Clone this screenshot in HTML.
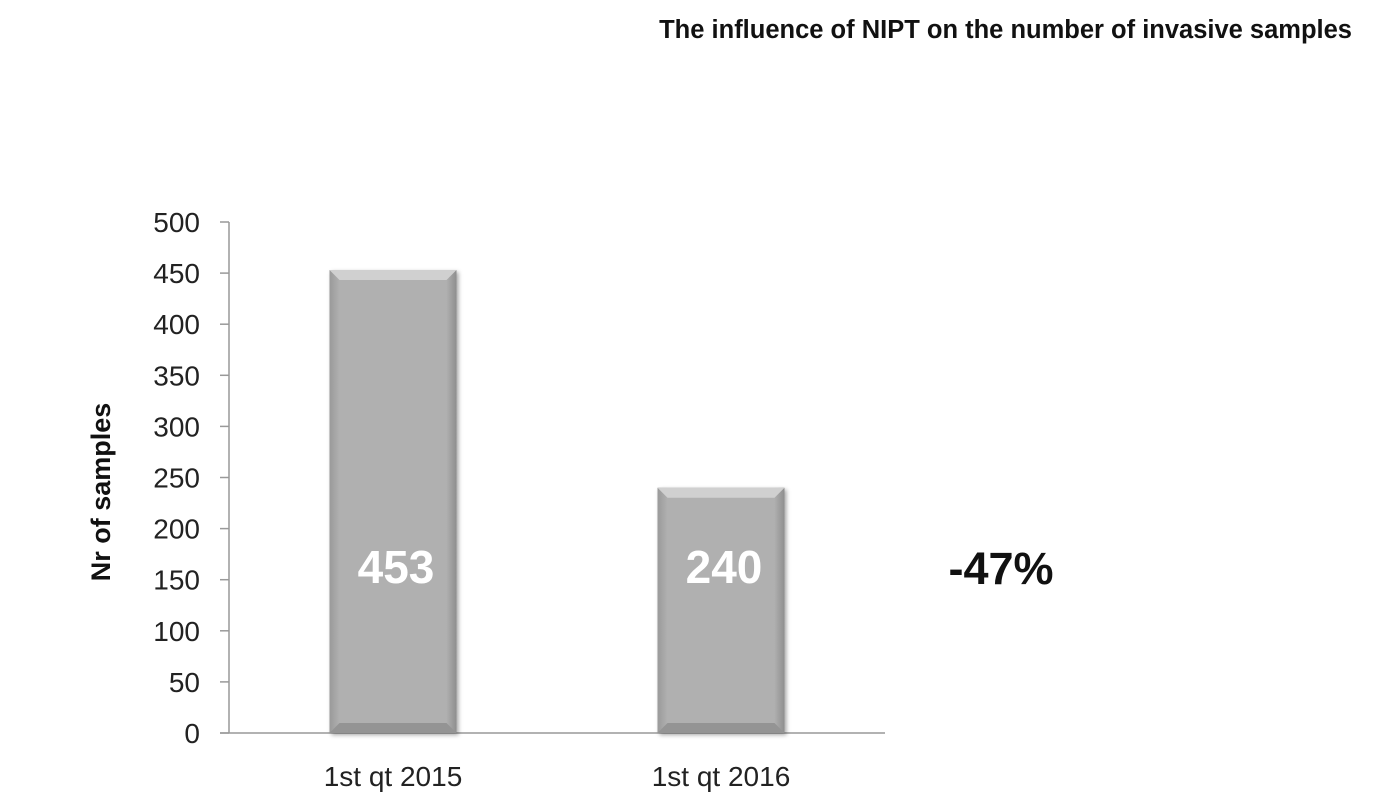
<!DOCTYPE html>
<html><head><meta charset="utf-8"><style>
html,body{margin:0;padding:0;background:#fff;}
svg{display:block;font-family:"Liberation Sans",sans-serif;}
</style></head><body>
<svg id="chart" width="1389" height="807">
<defs>
<linearGradient id="bodyG" x1="0" x2="1" y1="0" y2="0">
<stop offset="0" stop-color="#9a9a9a"/><stop offset="0.08" stop-color="#b0b0b0"/><stop offset="0.92" stop-color="#b0b0b0"/><stop offset="1" stop-color="#8e8e8e"/>
</linearGradient>
<filter id="sh" x="-10%" y="-10%" width="130%" height="130%"><feDropShadow dx="2" dy="2" stdDeviation="2" flood-color="#000" flood-opacity="0.35"/></filter>
</defs>
<text x="1352" y="38" text-anchor="end" font-size="25.5" font-weight="bold" fill="#111">The influence of NIPT on the number of invasive samples</text>
<text transform="translate(110,492) rotate(-90)" text-anchor="middle" font-size="27" font-weight="bold" fill="#111">Nr of samples</text>
<text x="1001" y="584" text-anchor="middle" font-size="45" font-weight="bold" fill="#111">-47%</text>
<g id="axes"></g><g id="bars"></g>
</svg>
<script>
const categories = ["1st qt 2015","1st qt 2016"];
const values = [453,240];
const yTicks = [0,50,100,150,200,250,300,350,400,450,500];
const NS="http://www.w3.org/2000/svg";
const x0=229,x1=885,y0=733,yTop=222,yMax=500;
const y=v=>y0-(v/yMax)*(y0-yTop);
const band=(x1-x0)/categories.length;
const cx=i=>x0+band*(i+0.5);
function mk(t,a,p){const e=document.createElementNS(NS,t);for(const k in a)e.setAttribute(k,a[k]);p.appendChild(e);return e;}
const ax=document.getElementById('axes'),bg=document.getElementById('bars');
const yl=mk('line',{x1:x0,x2:x0,y1:yTop,y2:y0,stroke:'#999','stroke-width':1.5},ax);


yTicks.forEach(t=>{
 const l=mk('line',{x1:x0-9,x2:x0,y1:y(t),y2:y(t),stroke:'#999','stroke-width':1.5},ax);
 
 
 const tx=mk('text',{x:x0-29,y:y(t)+10,'text-anchor':'end','font-size':28,fill:'#222'},ax);
 tx.textContent=t;
 
 
});
const xl=mk('line',{x1:x0-9,x2:x1,y1:y0,y2:y0,stroke:'#999','stroke-width':1.5},ax);


const bw=127,bev=10;
categories.forEach((c,i)=>{
 const L=cx(i)-bw/2,R=L+bw,T=y(values[i]),B=y0;
 const g=mk('g',{filter:'url(#sh)'},bg);
 
 
 mk('rect',{x:L,y:T,width:bw,height:B-T,fill:'url(#bodyG)'},g);
 mk('polygon',{points:`${L},${T} ${R},${T} ${R-bev},${T+bev} ${L+bev},${T+bev}`,fill:'#d0d0d0'},g);
 mk('polygon',{points:`${L},${B} ${R},${B} ${R-bev},${B-bev} ${L+bev},${B-bev}`,fill:'#949494'},g);
 const v=mk('text',{x:cx(i)+3,y:y0-150,'text-anchor':'middle','font-size':46,'font-weight':'bold',fill:'#fff'},bg);
 v.textContent=values[i];
 
 
 const cl=mk('text',{x:cx(i),y:786,'text-anchor':'middle','font-size':28,fill:'#222'},bg);
 cl.textContent=c;
 
 
});
</script>
</body></html>
